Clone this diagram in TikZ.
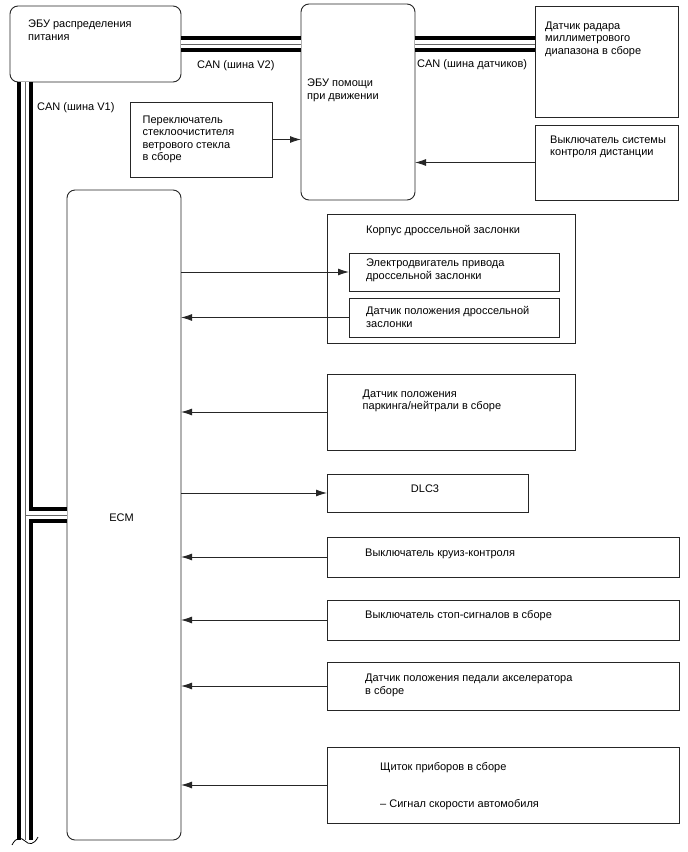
\documentclass[tikz,border=0pt]{standalone}
\usepackage{fontspec}
\setmainfont{Liberation Sans}
\usetikzlibrary{arrows.meta}
\begin{document}
\begin{tikzpicture}[x=1pt,y=-1pt,
  box/.style={draw=black!85, line width=0.9pt, inner sep=0pt, outer sep=0pt, anchor=north west},
  rbox/.style={box, rounded corners=8pt},
  txt/.style={inner sep=0pt, anchor=north west, align=left, yshift=-2pt, font=\fontsize{11}{12.4}\selectfont, execute at begin node={\rule{0pt}{9pt}}},
  arr/.style={draw=black!85, line width=0.9pt, -{Latex[length=11pt,width=7pt]}},
  bus/.style={line width=3.6pt, double=white, double distance=8.8pt, line cap=butt},
  busmid/.style={line width=0.6pt, black!60, line cap=butt}]
\useasboundingbox[fill=white] (0,0) rectangle (688,852);

% boxes
\node[rbox, minimum width=171pt, minimum height=76pt] (pwr) at (10,6) {};
\node[rbox, minimum width=114pt, minimum height=196pt] (drv) at (301,4) {};
\node[box, minimum width=143pt, minimum height=111pt] (radar) at (535,6) {};
\node[box, minimum width=143pt, minimum height=75pt] (dist) at (535,125) {};
\node[box, minimum width=142pt, minimum height=75pt] (wiper) at (130,102) {};
\node[rbox, minimum width=114pt, minimum height=650pt] (ecm) at (67,190) {};
\node[box, minimum width=248pt, minimum height=129pt] (thr) at (327,214) {};
\node[box, minimum width=210pt, minimum height=38pt] (in1) at (349,253) {};
\node[box, minimum width=210pt, minimum height=39pt] (in2) at (349,298) {};
\node[box, minimum width=248pt, minimum height=76pt] (park) at (327,374) {};
\node[box, minimum width=201pt, minimum height=38pt] (dlc) at (327,474) {};
\node[box, minimum width=352pt, minimum height=40pt] (cruise) at (327,537) {};
\node[box, minimum width=352pt, minimum height=40pt] (stop) at (327,600) {};
\node[box, minimum width=352pt, minimum height=48pt] (pedal) at (327,662) {};
\node[box, minimum width=352pt, minimum height=76pt] (inst) at (327,747) {};

% texts
\node[txt] (tpwr) at (28,18) {ЭБУ распределения\\питания};
\node[txt] (tdrv) at (307,77) {ЭБУ помощи\\при движении};
\node[txt] (tradar) at (545,19.5) {Датчик радара\\миллиметрового\\диапазона в сборе};
\node[txt] (tdist) at (550,133.5) {Выключатель системы\\контроля дистанции};
\node[txt] (twiper) at (142.5,113.7) {Переключатель\\стеклоочистителя\\ветрового стекла\\в сборе};
\node[txt] (tv2) at (197,57.7) {CAN (шина V2)};
\node[txt] (tsens) at (417,56.7) {CAN (шина датчиков)};
\node[txt] (tv1) at (37,99.3) {CAN (шина V1)};
\node[txt] (tthr) at (366,222.7) {Корпус дроссельной заслонки};
\node[txt] (tin1) at (366,257) {Электродвигатель привода\\дроссельной заслонки};
\node[txt] (tin2) at (366,304.3) {Датчик положения дроссельной\\заслонки};
\node[txt] (tpark) at (362.5,387.7) {Датчик положения\\паркинга/нейтрали в сборе};
\node[txt, anchor=north] (tdlc) at (425,481.7) {DLC3};
\node[txt, anchor=north] (tecm) at (121.5,510.3) {ECM};
\node[txt] (tcruise) at (365,545) {Выключатель круиз-контроля};
\node[txt] (tstop) at (365,607) {Выключатель стоп-сигналов в сборе};
\node[txt] (tpedal) at (365,672) {Датчик положения педали акселератора\\в сборе};
\node[txt] (tinst1) at (380,759.3) {Щиток приборов в сборе};
\node[txt] (tinst2) at (380,796) {-- Сигнал скорости автомобиля};

% arrows
\draw[arr] (wiper.east) -- (wiper.east -| drv.west);
\draw[arr] (dist.west) -- (dist.west -| drv.east);
\draw[arr] (in1.west -| ecm.east) -- (in1.west);
\draw[arr] (in2.west) -- (in2.west -| ecm.east);
\draw[arr] (park.west) -- (park.west -| ecm.east);
\draw[arr] (dlc.west -| ecm.east) -- (dlc.west);
\draw[arr] (cruise.west) -- (cruise.west -| ecm.east);
\draw[arr] (stop.west) -- (stop.west -| ecm.east);
\draw[arr] (pedal.west) -- (pedal.west -| ecm.east);
\draw[arr] (inst.west) -- (inst.west -| ecm.east);

% CAN buses
\coordinate (v1top) at (25,82);
\coordinate (v1bot) at (25,840);
\coordinate (bus2) at (pwr.east);
\draw[bus] (bus2) -- (bus2 -| drv.west);
\draw[busmid] (bus2) -- (bus2 -| drv.west);
\draw[bus] (bus2 -| drv.east) -- (bus2 -| radar.west);
\draw[busmid] (bus2 -| drv.east) -- (bus2 -| radar.west);
\draw[bus] (v1top) -- (v1bot) (v1top |- ecm.west) -- (ecm.west);
\draw[busmid] (v1top) -- (v1bot) (v1top |- ecm.west) -- (ecm.west);
\draw[line width=0.8pt] (12,845) .. controls (16,837) and (21,837) .. (25,841) .. controls (29,845) and (34,845) .. (38,837);
\end{tikzpicture}
\end{document}
